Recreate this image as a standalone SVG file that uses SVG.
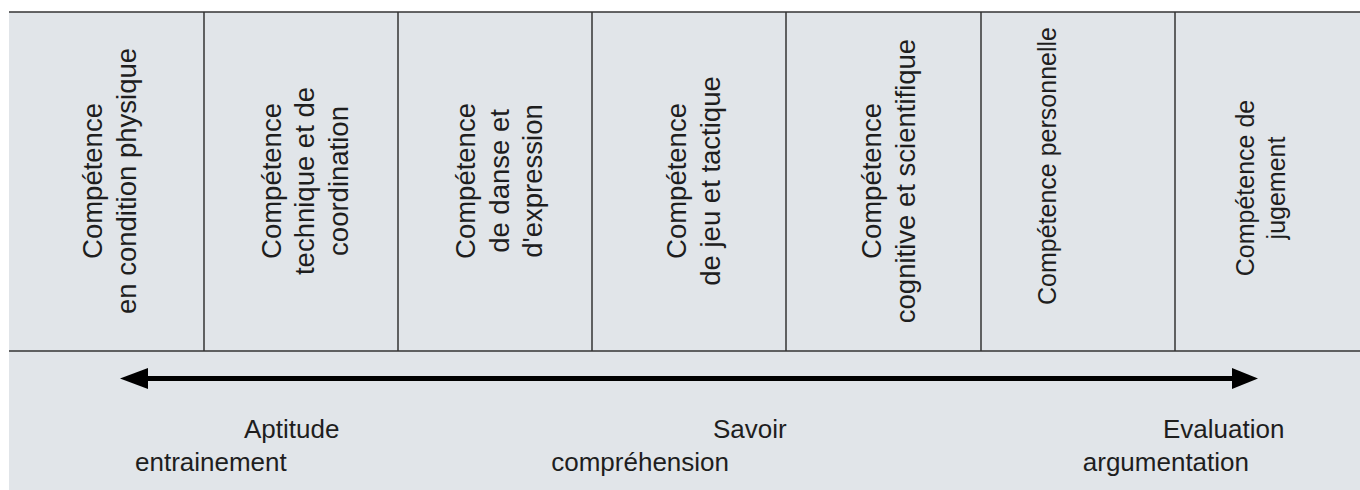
<svg xmlns="http://www.w3.org/2000/svg" width="1360" height="490" viewBox="0 0 1360 490">
<style>
.bg{fill:#e1e5e9}
.rule{stroke:#333;stroke-width:1.5;fill:none}
.lbl{font-family:"Liberation Sans",Arial,sans-serif;font-size:27.5px;fill:#1e1e1e;text-anchor:middle}
.sm{font-size:25px}
.bot{font-family:"Liberation Sans",Arial,sans-serif;font-size:26px;fill:#1e1e1e}
.arrow{stroke:#000;stroke-width:5}
.head{fill:#000}
</style>
<rect class="bg" x="9" y="12" width="1351" height="478"/>
<g id="frame">
<line class="rule" x1="9" y1="12" x2="1360" y2="12"/>
<line class="rule" x1="9" y1="351" x2="1360" y2="351"/>
<line class="rule" x1="204" y1="12" x2="204" y2="351"/>
<line class="rule" x1="398" y1="12" x2="398" y2="351"/>
<line class="rule" x1="592" y1="12" x2="592" y2="351"/>
<line class="rule" x1="786" y1="12" x2="786" y2="351"/>
<line class="rule" x1="981" y1="12" x2="981" y2="351"/>
<line class="rule" x1="1175" y1="12" x2="1175" y2="351"/>
</g>
<g id="col1">
<text class="lbl" transform="translate(102,181) rotate(-90)"><tspan x="0" y="0">Compétence</tspan><tspan x="0" dy="33.5">en condition physique</tspan></text>
</g>
<g id="col2">
<text class="lbl" transform="translate(280.5,181) rotate(-90)"><tspan x="0" y="0">Compétence</tspan><tspan x="0" dy="33.5">technique et de</tspan><tspan x="0" dy="33.5">coordination</tspan></text>
</g>
<g id="col3">
<text class="lbl" transform="translate(475,181) rotate(-90)"><tspan x="0" y="0">Compétence</tspan><tspan x="0" dy="33.5">de danse et</tspan><tspan x="0" dy="33.5">d'expression</tspan></text>
</g>
<g id="col4">
<text class="lbl" transform="translate(686,181) rotate(-90)"><tspan x="0" y="0">Compétence</tspan><tspan x="0" dy="33.5">de jeu et tactique</tspan></text>
</g>
<g id="col5">
<text class="lbl" transform="translate(880.5,181) rotate(-90)"><tspan x="0" y="0">Compétence</tspan><tspan x="0" dy="34">cognitive et scientifique</tspan></text>
</g>
<g id="col6">
<text class="lbl sm" transform="translate(1056,166) rotate(-90)">Compétence personnelle</text>
</g>
<g id="col7">
<text class="lbl sm" transform="translate(1254,188) rotate(-90)"><tspan x="0" y="0">Compétence de</tspan><tspan x="0" dy="31">jugement</tspan></text>
</g>
<g id="connectors">
<line class="arrow" x1="146" y1="378.5" x2="1234" y2="378.5"/>
<polygon class="head" points="120,378.5 148,368 148,389"/>
<polygon class="head" points="1258,378.5 1232,368 1232,389"/>
</g>
<g id="label-aptitude">
<text class="bot" x="244" y="438">Aptitude</text>
<text class="bot" x="135" y="471">entrainement</text>
</g>
<g id="label-savoir">
<text class="bot" x="713" y="438">Savoir</text>
<text class="bot" x="729" y="471" text-anchor="end">compréhension</text>
</g>
<g id="label-evaluation">
<text class="bot" x="1163" y="438">Evaluation</text>
<text class="bot" x="1249" y="471" text-anchor="end">argumentation</text>
</g>
</svg>
